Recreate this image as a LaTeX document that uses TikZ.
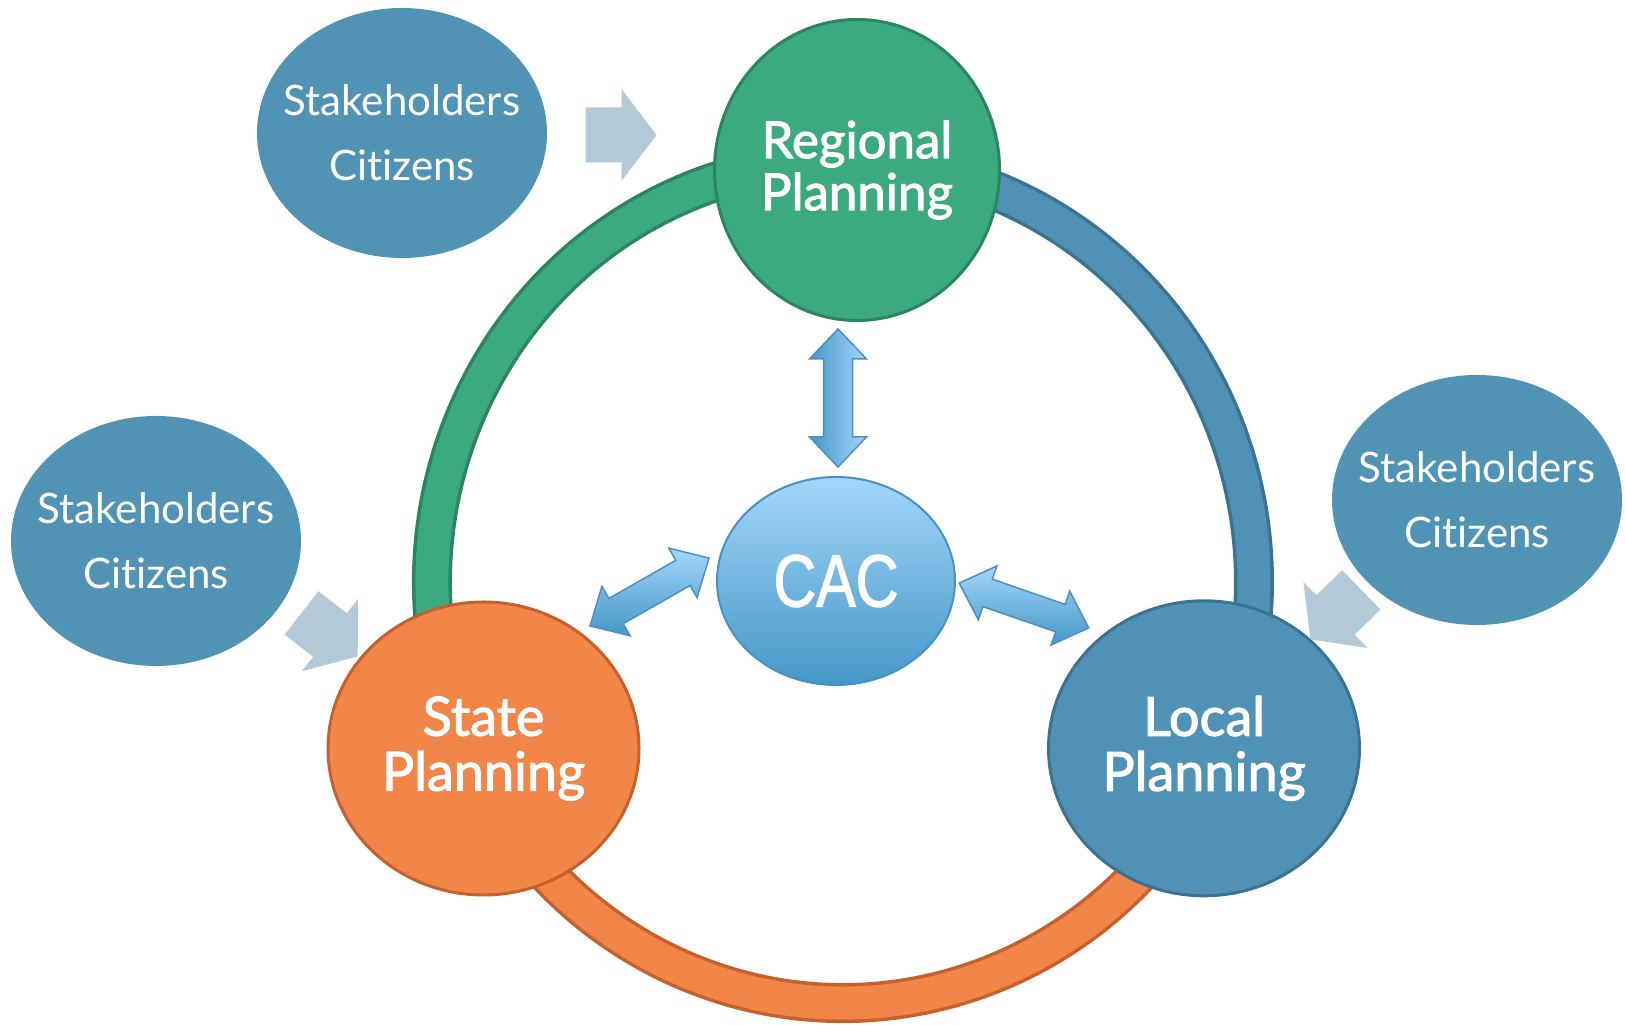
\documentclass[tikz,border=0pt]{standalone}
\usepackage{fontspec}
\setmainfont[Ligatures=NoCommon]{Lato}
\newfontfamily\cacfont[FakeStretch=0.8,FakeBold=1.5]{Liberation Sans}
\newfontfamily\planfont[FakeBold=2,Ligatures=NoCommon]{Lato}
\usetikzlibrary{shapes.geometric}
\definecolor{stk}{HTML}{5193B5}
\definecolor{grn}{HTML}{3BAA80}
\definecolor{grnd}{HTML}{2B8462}
\definecolor{blu}{HTML}{4F92B5}
\definecolor{blud}{HTML}{3C7393}
\definecolor{org}{HTML}{F28548}
\definecolor{orgd}{HTML}{C5612C}
\definecolor{blk}{HTML}{B3C9D8}
\definecolor{cact}{HTML}{A2D6FA}
\definecolor{cacb}{HTML}{4597C7}
\definecolor{cacd}{HTML}{4A90C0}
\tikzset{
  stkbox/.style={ellipse, fill=stk, inner sep=0pt, minimum width=290pt, minimum height=250pt},
  stktext/.style={text=white, align=center, inner sep=0pt, font=\fontsize{42}{65}\selectfont},
  planbox/.style={ellipse, inner sep=0pt, line width=3pt, text=white, align=center,
    font=\planfont\fontsize{54}{55}\selectfont},
  ringout/.style={line width=40pt},
  ringin/.style={line width=33pt},
  blkstyle/.style={fill=blk},
  dblstyle/.style={draw=cacd, line width=1.5pt, line join=miter},
  pics/blkarrow/.style={code={
    \path[pic actions] (-36,-27.5) -- (0,-27.5) -- (0,-46) -- (35,0) -- (0,46) -- (0,27.5) -- (-36,27.5) -- cycle;
  }},
  pics/dblarrow/.style={code={
    \path[pic actions] (-#1/2,0) -- (-#1/2+30,28.5) -- (-#1/2+30,14.5) -- (#1/2-30,14.5) -- (#1/2-30,28.5)
      -- (#1/2,0) -- (#1/2-30,-28.5) -- (#1/2-30,-14.5) -- (-#1/2+30,-14.5) -- (-#1/2+30,-28.5) -- cycle;
  }}
}
\begin{document}
\begin{tikzpicture}[x=1pt,y=1pt]
\useasboundingbox (0,0) rectangle (1625,1025);
% ring
\coordinate (rc) at (843,443);
\draw[ringout, grnd] (rc) ++(204.8:411pt and 421pt) arc[start angle=204.8, end angle=88, x radius=411pt, y radius=421pt];
\draw[ringin, grn] (rc) ++(204.8:411pt and 421pt) arc[start angle=204.8, end angle=88, x radius=411pt, y radius=421pt];
\draw[ringout, blud] (rc) ++(88:411pt and 421pt) arc[start angle=88, end angle=-24.7, x radius=411pt, y radius=421pt];
\draw[ringin, blu] (rc) ++(88:411pt and 421pt) arc[start angle=88, end angle=-24.7, x radius=411pt, y radius=421pt];
\draw[ringout, orgd] (rc) ++(-24.7:411pt and 421pt) arc[start angle=-24.7, end angle=-155.2, x radius=411pt, y radius=421pt];
\draw[ringin, org] (rc) ++(-24.7:411pt and 421pt) arc[start angle=-24.7, end angle=-155.2, x radius=411pt, y radius=421pt];
% planning circles
\node[planbox, fill=grn, draw=grnd, minimum width=285pt, minimum height=301pt,
  font=\planfont\fontsize{51}{52}\selectfont] (reg) at (857,855) {Regional\\Planning};
\node[planbox, fill=org, draw=orgd, minimum width=311pt, minimum height=293pt] (state) at (483.5,276.5) {State\\Planning};
\node[planbox, fill=blu, draw=blud, minimum width=311pt, minimum height=295pt] (local) at (1204,276.7) {Local\\Planning};
% stakeholders
\node[stkbox] (s1) at (402,892) {};
\node[stkbox] (s2) at (156,484) {};
\node[stkbox] (s3) at (1477,525) {};
\node[stktext] (s1t) at (s1) {Stakeholders\\Citizens};
\node[stktext] (s2t) at (s2) {Stakeholders\\Citizens};
\node[stktext] (s3t) at (s3) {Stakeholders\\Citizens};
% block arrows
\pic[blkstyle] (a1) at (621.5,890) {blkarrow};
\pic[blkstyle, rotate=-37.8] (a2) at (330,390) {blkarrow};
\pic[blkstyle, rotate=-135.8] (a3) at (1335.5,410) {blkarrow};
% CAC
\node[ellipse, inner sep=0pt, minimum width=238pt, minimum height=208pt, top color=cact, bottom color=cacb,
  draw=cacd, line width=2pt, text=white, font=\cacfont\fontsize{74}{80}\selectfont] (cac) at (836,444) {CAC};
% double arrows
\pic[dblstyle, left color=cacb, right color=cact, rotate=90] (d1) at (838,627) {dblarrow=138};
\pic[dblstyle, top color=cact, bottom color=cacb, rotate=29.7] (d2) at (649.5,433) {dblarrow=137};
\pic[dblstyle, top color=cact, bottom color=cacb, rotate=-19.1] (d3) at (1024,419.5) {dblarrow=137};
\end{tikzpicture}
\end{document}
